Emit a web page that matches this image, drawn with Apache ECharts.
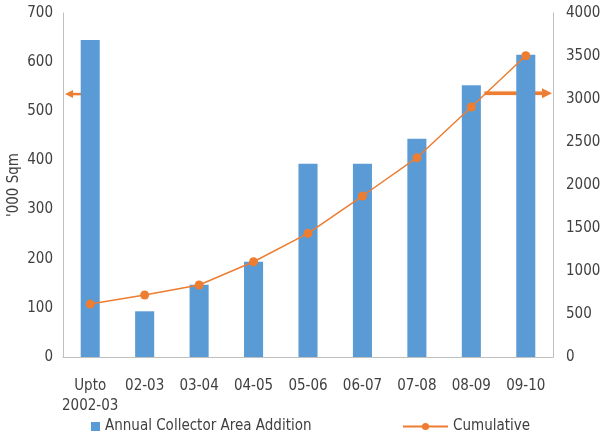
<!DOCTYPE html>
<html>
<head>
<meta charset="utf-8">
<script src="https://cdn.jsdelivr.net/npm/echarts@6/dist/echarts.min.js"></script>
<style>html,body{margin:0;padding:0;background:#fff}#c{width:600px;height:434px}</style>
</head>
<body>
<div id="c"></div>
<script>
const categories = ['Upto\n2002-03','02-03','03-04','04-05','05-06','06-07','07-08','08-09','09-10'];
const annualAddition = [645, 93, 147, 194, 393, 393, 444, 553, 615];
const cumulative = [615, 721, 837, 1108, 1438, 1872, 2317, 2907, 3503];
const leftTicks = [0, 700, 100];
const rightTicks = [0, 4000, 500];
// annotation arrows: [axis value, start category index]
const leftArrow = { value: 535, fromCategory: 0 };
const rightArrow = { value: 3066, fromCategory: 7 };

const FONT = '"Liberation Sans Narrow","DejaVu Sans Condensed","Roboto",sans-serif';
const TXT = '#404040';
const BLUE = '#5B9BD5';
const ORANGE = '#ED7D31';
const AXIS = '#BFBFBF';
const FS = 15;

const chart = echarts.init(document.getElementById('c'), null, {renderer:'canvas'});
chart.setOption({
  animation:false,
  textStyle:{fontFamily:FONT},
  grid:{left:63, right:47, top:13, bottom:77, containLabel:false, outerBoundsMode:'none'},
  legend:[
    {data:['Annual Collector Area Addition'], icon:'rect', left:86, top:414, itemWidth:9, itemHeight:9, itemGap:0,
     textStyle:{fontFamily:FONT, fontSize:FS, color:TXT}},
    {data:['Cumulative'], left:397, top:414, itemWidth:45, itemHeight:9,
     textStyle:{fontFamily:FONT, fontSize:FS, color:TXT}}
  ],
  xAxis:{
    type:'category', data:categories,
    axisLine:{lineStyle:{color:AXIS}}, axisTick:{show:false},
    axisLabel:{color:TXT, fontFamily:FONT, fontSize:FS, margin:19, lineHeight:20, interval:0}
  },
  yAxis:[
    {type:'value', min:leftTicks[0], max:leftTicks[1], interval:leftTicks[2],
     name:"'000 Sqm", nameLocation:'middle', nameGap:49, nameRotate:90, nameMoveOverlap:false,
     nameTextStyle:{color:TXT, fontFamily:FONT, fontSize:FS, verticalAlign:'middle'},
     axisLine:{show:true, lineStyle:{color:AXIS}}, axisTick:{show:false}, splitLine:{show:false},
     axisLabel:{color:TXT, fontFamily:FONT, fontSize:FS, margin:10}},
    {type:'value', position:'right', min:rightTicks[0], max:rightTicks[1], interval:rightTicks[2],
     axisLine:{show:true, lineStyle:{color:AXIS}}, axisTick:{show:false}, splitLine:{show:false},
     axisLabel:{color:TXT, fontFamily:FONT, fontSize:FS, margin:13, formatter:function(v){return String(v);}}}
  ],
  series:[
    {name:'Annual Collector Area Addition', type:'bar', data:annualAddition, yAxisIndex:0,
     barWidth:'35%', itemStyle:{color:BLUE}},
    {name:'Cumulative', type:'line', data:cumulative, yAxisIndex:1,
     symbol:'circle', symbolSize:9, lineStyle:{color:ORANGE, width:1.5}, itemStyle:{color:ORANGE}}
  ]
});

function arrowGraphics(){
  const gl = 63, gr = 553;
  const ly = chart.convertToPixel({yAxisIndex:0}, leftArrow.value);
  const lx0 = chart.convertToPixel({xAxisIndex:0}, leftArrow.fromCategory);
  const ry = chart.convertToPixel({yAxisIndex:1}, rightArrow.value);
  const c7 = chart.convertToPixel({xAxisIndex:0}, rightArrow.fromCategory);
  const c8 = chart.convertToPixel({xAxisIndex:0}, rightArrow.fromCategory + 1);
  const rx0 = c7 + (c8 - c7) * 0.24;
  const lEnd = gl + 2, rEnd = gr - 1;
  return [
    {type:'line', shape:{x1:lx0, y1:ly, x2:lEnd+6, y2:ly}, style:{stroke:ORANGE, lineWidth:2.5}},
    {type:'polygon', shape:{points:[[lEnd, ly],[lEnd+8, ly-4],[lEnd+8, ly+4]]}, style:{fill:ORANGE}},
    {type:'line', shape:{x1:rx0, y1:ry, x2:rEnd-8, y2:ry}, style:{stroke:ORANGE, lineWidth:3.5, shadowBlur:2, shadowColor:'rgba(237,125,49,0.4)'}},
    {type:'polygon', shape:{points:[[rEnd, ry],[rEnd-10, ry-5],[rEnd-10, ry+5]]}, style:{fill:ORANGE}}
  ];
}
chart.setOption({graphic:arrowGraphics()});
</script>
</body>
</html>
